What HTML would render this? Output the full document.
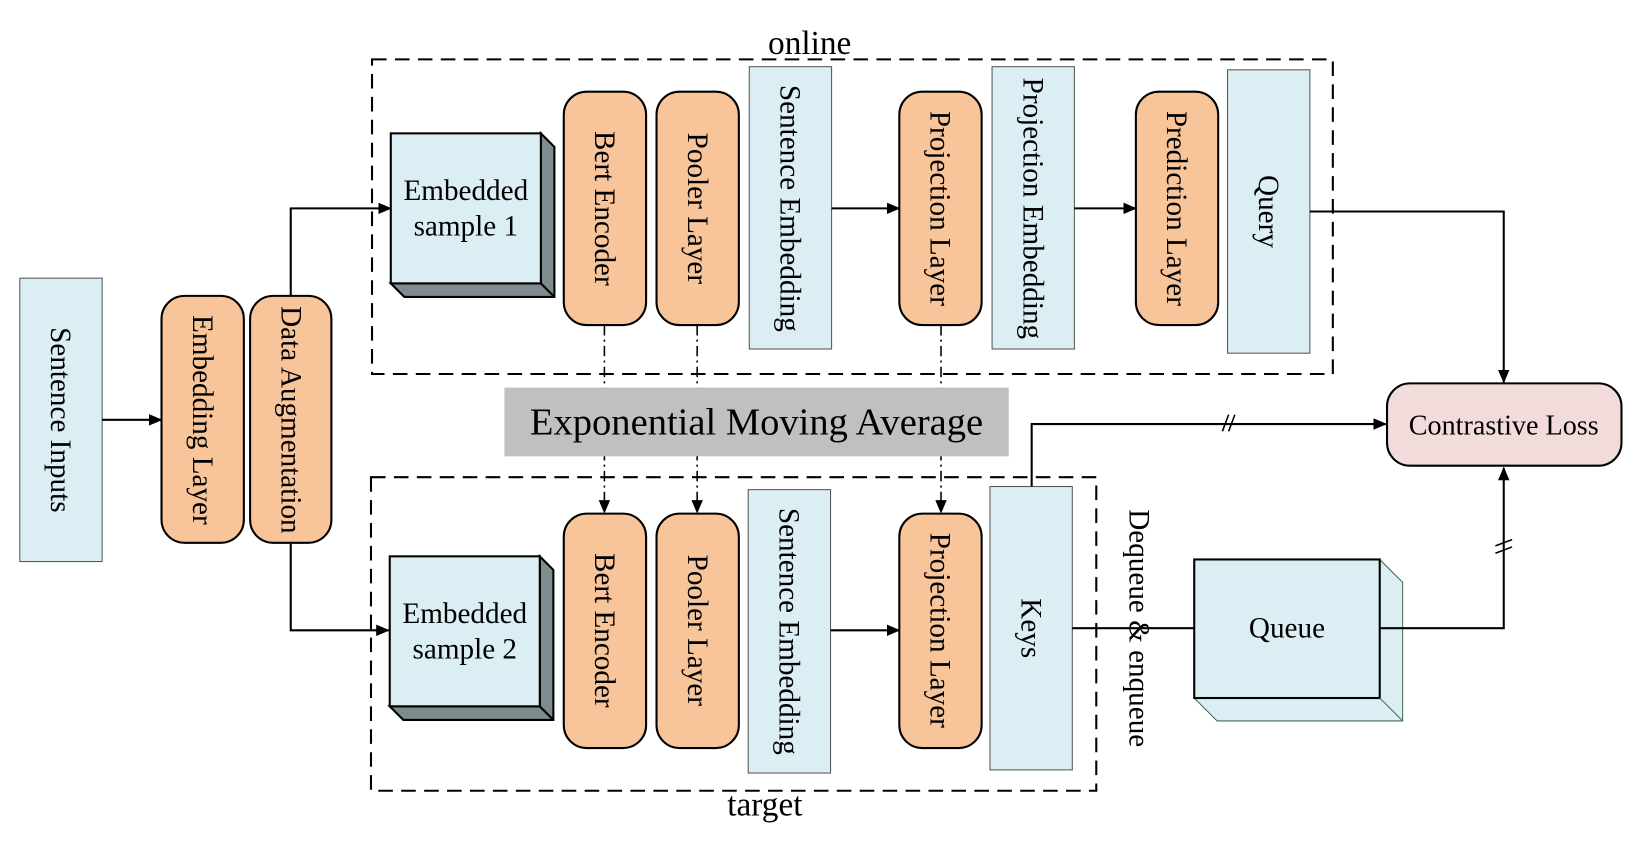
<!DOCTYPE html>
<html><head><style>html,body{margin:0;padding:0;background:#fff}svg{display:block}
text{font-family:"Liberation Serif",serif;fill:#000}</style></head><body>
<svg width="1634" height="847" viewBox="0 0 1568 813" preserveAspectRatio="none" xmlns="http://www.w3.org/2000/svg">
<defs><marker id="a" markerWidth="13" markerHeight="11" refX="12" refY="5.5" orient="auto" markerUnits="userSpaceOnUse"><path d="M0,0 L13,5.5 L0,11 z" fill="#000"/></marker></defs>
<g stroke="#000" stroke-width="2">
<rect x="357" y="57" width="922" height="302" fill="none" stroke-dasharray="14,8" stroke-width="2"/>
<rect x="356" y="458" width="696" height="301" fill="none" stroke-dasharray="14,8" stroke-width="2"/>
<rect x="19" y="267" width="79" height="272" fill="#dbeef4" stroke="#555" stroke-width="1"/>
<rect x="155" y="284" width="79" height="237" rx="22" fill="#f8c59b"/>
<rect x="240" y="284" width="78" height="237" rx="22" fill="#f8c59b"/>
<polygon points="519,128 532,141 532,285 388,285 375,272 519,272" fill="#7f8c8d"/>
<rect x="375" y="128" width="144" height="144" fill="#dbeef4"/>
<line x1="519" y1="272" x2="532" y2="285"/>
<polygon points="518,534 531,547 531,691 387,691 374,678 518,678" fill="#7f8c8d"/>
<rect x="374" y="534" width="144" height="144" fill="#dbeef4"/>
<line x1="518" y1="678" x2="531" y2="691"/>
<rect x="541" y="88" width="79" height="224" rx="22" fill="#f8c59b"/>
<rect x="630" y="88" width="79" height="224" rx="22" fill="#f8c59b"/>
<rect x="719" y="64" width="79" height="271" fill="#dbeef4" stroke="#555" stroke-width="1"/>
<rect x="863" y="88" width="79" height="224" rx="22" fill="#f8c59b"/>
<rect x="952" y="64" width="79" height="271" fill="#dbeef4" stroke="#555" stroke-width="1"/>
<rect x="1090" y="88" width="79" height="224" rx="22" fill="#f8c59b"/>
<rect x="1178" y="67" width="79" height="272" fill="#dbeef4" stroke="#555" stroke-width="1"/>
<rect x="541" y="493" width="79" height="225" rx="22" fill="#f8c59b"/>
<rect x="630" y="493" width="79" height="225" rx="22" fill="#f8c59b"/>
<rect x="718" y="470" width="79" height="272" fill="#dbeef4" stroke="#555" stroke-width="1"/>
<rect x="863" y="493" width="79" height="225" rx="22" fill="#f8c59b"/>
<rect x="950" y="467" width="79" height="272" fill="#dbeef4" stroke="#555" stroke-width="1"/>
<polygon points="1146,537 1324,537 1346,559 1346,692 1168,692 1146,670" fill="#dbeef4" stroke="#4a6a55" stroke-width="1"/>
<rect x="1146" y="537" width="178" height="133" fill="#dbeef4"/>
<line x1="1324" y1="670" x2="1346" y2="692" stroke="#4a6a55" stroke-width="1"/>
<rect x="1331" y="368" width="225" height="79" rx="22" fill="#f2dcdb"/>
<line x1="98" y1="403" x2="155" y2="403" marker-end="url(#a)"/>
<polyline points="279,284 279,200 375,200" fill="none" marker-end="url(#a)"/>
<polyline points="279,521 279,605 373,605" fill="none" marker-end="url(#a)"/>
<line x1="798" y1="200" x2="863" y2="200" marker-end="url(#a)"/>
<line x1="1031" y1="200" x2="1090" y2="200" marker-end="url(#a)"/>
<polyline points="1257,203 1443,203 1443,367" fill="none" marker-end="url(#a)"/>
<line x1="797" y1="605" x2="863" y2="605" marker-end="url(#a)"/>
<polyline points="990,467 990,407 1330,407" fill="none" marker-end="url(#a)"/>
<line x1="1029" y1="603" x2="1146" y2="603"/>
<polyline points="1324,603 1443,603 1443,449" fill="none" marker-end="url(#a)"/>
<line x1="1173" y1="414" x2="1179" y2="398" stroke-width="1.5"/><line x1="1179" y1="414" x2="1185" y2="398" stroke-width="1.5"/>
<line x1="1435" y1="524" x2="1451" y2="518" stroke-width="1.5"/><line x1="1435" y1="531" x2="1451" y2="525" stroke-width="1.5"/>
<g stroke-dasharray="10,4,2,4" stroke-width="1.5">
<line x1="580" y1="312" x2="580" y2="492" marker-end="url(#a)"/>
<line x1="669" y1="312" x2="669" y2="492" marker-end="url(#a)"/>
<line x1="903" y1="312" x2="903" y2="492" marker-end="url(#a)"/>
</g>
</g>
<rect x="484" y="372" width="484" height="66" fill="#c0c0c0"/>
<text x="726" y="417" font-size="37" text-anchor="middle">Exponential Moving Average</text>
<text x="777" y="52" font-size="32" text-anchor="middle">online</text>
<text x="734" y="783" font-size="32" text-anchor="middle">target</text>
<g font-size="28" text-anchor="middle">
<text x="447" y="192">Embedded</text>
<text x="447" y="226">sample 1</text>
<text x="446" y="598">Embedded</text>
<text x="446" y="632">sample 2</text>
<text x="1235" y="612">Queue</text>
<text x="1443" y="417" font-size="27">Contrastive Loss</text>
<text transform="translate(49,403) rotate(90)">Sentence Inputs</text>
<text transform="translate(185,403) rotate(90)">Embedding Layer</text>
<text transform="translate(270,403) rotate(90)">Data Augmentation</text>
<text transform="translate(571,200) rotate(90)">Bert Encoder</text>
<text transform="translate(660,200) rotate(90)">Pooler Layer</text>
<text transform="translate(749,200) rotate(90)">Sentence Embedding</text>
<text transform="translate(893,200) rotate(90)">Projection Layer</text>
<text transform="translate(982,200) rotate(90)">Projection Embedding</text>
<text transform="translate(1120,200) rotate(90)">Prediction Layer</text>
<text transform="translate(1208,203) rotate(90)">Query</text>
<text transform="translate(571,605) rotate(90)">Bert Encoder</text>
<text transform="translate(660,605) rotate(90)">Pooler Layer</text>
<text transform="translate(748,606) rotate(90)">Sentence Embedding</text>
<text transform="translate(893,605) rotate(90)">Projection Layer</text>
<text transform="translate(980,603) rotate(90)">Keys</text>
<text transform="translate(1084,603) rotate(90)">Dequeue &amp; enqueue</text>
</g>
</svg>
</body></html>
